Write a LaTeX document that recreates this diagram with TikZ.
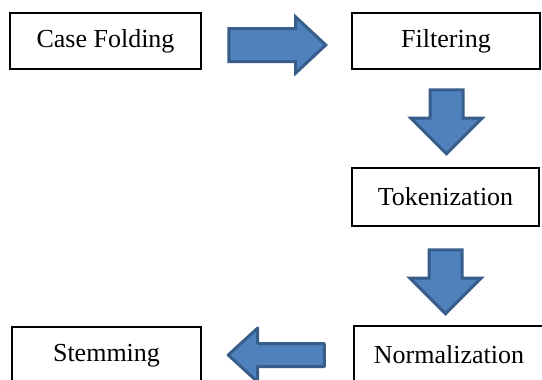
\documentclass[tikz,border=0pt]{standalone}
\usepackage{fontspec}
\setmainfont{Liberation Serif}
\usetikzlibrary{calc,positioning,shapes.arrows}

\definecolor{arrowfill}{HTML}{4F81BD}
\definecolor{arrowline}{HTML}{385D8A}

\tikzset{
  stagebox/.style={draw=black, line width=1.5, fill=white, inner sep=0pt,
    font=\fontsize{26}{30}\selectfont},
  blockarrow/.style={single arrow, fill=arrowfill, draw=arrowline, line width=3,
    inner sep=0pt, text depth=0pt, single arrow head indent=0pt, anchor=tail}
}

\begin{document}
\begin{tikzpicture}[x=1pt, y=-1pt]
  \useasboundingbox (0,0) rectangle (542,380);

  % Stages
  \node[stagebox, minimum width=191, minimum height=56] (fold) at (105.5,41) {Case Folding};
  \node[stagebox, minimum width=188, minimum height=56] (filter) at (446,41) {Filtering};
  \node[stagebox, minimum width=187, minimum height=58] (token) at (445.5,197) {Tokenization};
  \node[stagebox, minimum width=190, minimum height=58] (norm) at (449,355) {Normalization};
  \node[stagebox, minimum width=189, minimum height=58] (stem) at (106.5,356) {Stemming};

  % Block arrows between the stages
  \node[blockarrow, text height=30pt, minimum height=97, minimum width=53,
    single arrow head extend=11.5, single arrow tip angle=86]
    (a1) at ($(fold.east)+(25.5,4)$) {};
  \node[blockarrow, rotate=-90, text height=30pt, minimum height=64, minimum width=68,
    single arrow head extend=19]
    (a2) at ($(filter.south)+(0.5,18.5)$) {};
  \node[blockarrow, rotate=-90, text height=30pt, minimum height=64, minimum width=68,
    single arrow head extend=19]
    (a3) at ($(token.south)+(0,21.5)$) {};
  \node[blockarrow, rotate=180, line join=round, text height=20pt, minimum height=96,
    minimum width=51, single arrow head extend=15.5, single arrow tip angle=85]
    (a4) at ($(norm.west)+(-27.5,0)$) {};
\end{tikzpicture}
\end{document}
